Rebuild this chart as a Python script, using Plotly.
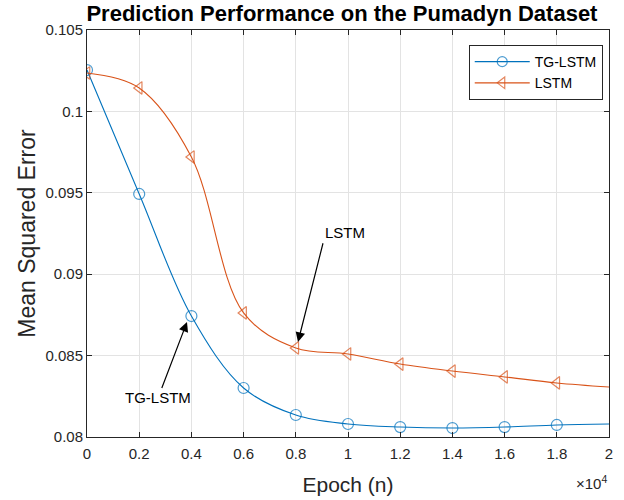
import plotly.graph_objects as go

# Epochs where the errors were recorded
epochs = [0, 2000, 4000, 6000, 8000, 10000, 12000, 14000, 16000, 18000, 20000]

# Mean squared error per model
mse_tg_lstm = [0.10254, 0.09493, 0.08743, 0.08301, 0.08135, 0.0808, 0.08061, 0.08055, 0.08061, 0.08074, 0.0808]
mse_lstm = [0.10236, 0.10144, 0.0972, 0.08762, 0.08547, 0.0851, 0.08448, 0.08405, 0.08369, 0.08332, 0.08307]

x_tickvals = [0, 2000, 4000, 6000, 8000, 10000, 12000, 14000, 16000, 18000, 20000]
x_ticktext = ["0", "0.2", "0.4", "0.6", "0.8", "1", "1.2", "1.4", "1.6", "1.8", "2"]
y_tickvals = [0.08, 0.085, 0.09, 0.095, 0.1, 0.105]
y_ticktext = ["0.08", "0.085", "0.09", "0.095", "0.1", "0.105"]

BLUE = "#0072BD"
ORANGE = "#D95319"
INK = "#262626"
FONT = "Liberation Sans, Arial, sans-serif"

# markers on every recorded epoch except the last one
msize = [11] * (len(epochs) - 1) + [0]

fig = go.Figure()
fig.add_trace(go.Scatter(
    x=epochs, y=mse_tg_lstm, name="TG-LSTM", mode="lines+markers",
    line=dict(color=BLUE, width=1.1, shape="spline", smoothing=1.0),
    marker=dict(symbol="circle-open", size=msize, color=BLUE, line=dict(width=1.2)),
))
fig.add_trace(go.Scatter(
    x=epochs, y=mse_lstm, name="LSTM", mode="lines+markers",
    line=dict(color=ORANGE, width=1.1, shape="spline", smoothing=1.0),
    marker=dict(symbol="triangle-left-open", size=msize, color=ORANGE, line=dict(width=1.2)),
))

axis_common = dict(
    showgrid=True, gridcolor="#e3e3e3", gridwidth=1,
    showline=True, linecolor=INK, linewidth=1, mirror="ticks",
    ticks="inside", ticklen=5, tickcolor=INK,
    tickfont=dict(family=FONT, size=15, color=INK),
    zeroline=False, automargin=False,
)

fig.update_xaxes(
    range=[0, 20000], tickmode="array", tickvals=x_tickvals, ticktext=x_ticktext,
    ticklabelstandoff=3,
    title=dict(text="Epoch (n)", font=dict(family=FONT, size=21, color=INK), standoff=16),
    **axis_common,
)
fig.update_yaxes(
    range=[0.08, 0.105], tickmode="array", tickvals=y_tickvals, ticktext=y_ticktext,
    title=dict(text="Mean Squared Error", font=dict(family=FONT, size=23, color=INK), standoff=3),
    **axis_common,
)

annotations = [
    # exponent label for the x axis
    dict(text="×10<sup>4</sup>", xref="paper", yref="paper", x=1.0, y=-0.113,
         xanchor="right", yanchor="middle", showarrow=False,
         font=dict(family=FONT, size=15, color=INK)),
    # labels with arrows pointing at each curve
    dict(x=3831, y=0.08706, ax=2720, ay=0.0824, xref="x", yref="y", axref="x", ayref="y",
         text="TG-LSTM", showarrow=True, arrowhead=2, arrowsize=1.6, arrowwidth=1.2,
         arrowcolor="black", font=dict(family=FONT, size=15, color="black")),
    dict(x=8084, y=0.08584, ax=9042, ay=0.0919, xref="x", yref="y", axref="x", ayref="y",
         xanchor="left", yanchor="bottom",
         text="LSTM", showarrow=True, arrowhead=2, arrowsize=1.6, arrowwidth=1.2,
         arrowcolor="black", font=dict(family=FONT, size=15, color="black")),
]

fig.update_layout(
    width=624, height=500,
    margin=dict(l=87, r=15, t=30, b=63),
    paper_bgcolor="white", plot_bgcolor="white",
    title=dict(text="<b>Prediction Performance on the Pumadyn Dataset</b>",
               x=0.548, xanchor="center", y=0.974, yanchor="middle",
               font=dict(family=FONT, size=22, color="black")),
    legend=dict(x=0.988, y=0.963, xanchor="right", yanchor="top",
                bgcolor="white", bordercolor=INK, borderwidth=1,
                font=dict(family=FONT, size=14, color="black"),
                itemwidth=55, tracegroupgap=0),
    annotations=annotations,
    showlegend=True,
)

fig.write_html("out.html")
